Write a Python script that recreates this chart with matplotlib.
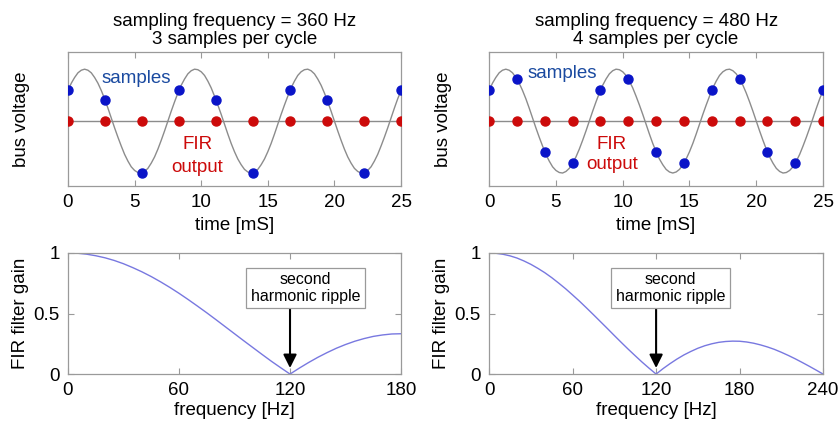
import matplotlib.pyplot as plt

plt.rcParams['font.family'] = ['Liberation Sans', 'DejaVu Sans']

# bus voltage wave, one reading every 0.25 ms
waveT = [k * 0.25 for k in range(101)]
waveV = [0.59, 0.73, 0.84, 0.93, 0.98, 1.0, 0.98, 0.93, 0.84, 0.73,
         0.59, 0.43, 0.25, 0.06, -0.13, -0.31, -0.48, -0.64, -0.77, -0.88,
         -0.95, -0.99, -1.0, -0.97, -0.91, -0.81, -0.69, -0.54, -0.37, -0.19,
         0.0, 0.19, 0.37, 0.54, 0.69, 0.81, 0.91, 0.97, 1.0, 0.99,
         0.95, 0.88, 0.77, 0.64, 0.48, 0.31, 0.13, -0.06, -0.25, -0.43,
         -0.59, -0.73, -0.84, -0.93, -0.98, -1.0, -0.98, -0.93, -0.84, -0.73,
         -0.59, -0.43, -0.25, -0.06, 0.13, 0.31, 0.48, 0.64, 0.77, 0.88,
         0.95, 0.99, 1.0, 0.97, 0.91, 0.81, 0.69, 0.54, 0.37, 0.19,
         0.0, -0.19, -0.37, -0.54, -0.69, -0.81, -0.91, -0.97, -1.0, -0.99,
         -0.95, -0.88, -0.77, -0.64, -0.48, -0.31, -0.13, 0.06, 0.25, 0.43,
         0.59]

# samples at 360 Hz
samp3T = [0.0, 2.78, 5.56, 8.33, 11.11, 13.89, 16.67, 19.44, 22.22, 25.0]
samp3V = [0.59, 0.41, -0.99, 0.59, 0.41, -0.99, 0.59, 0.41, -0.99, 0.59]
fir3V = [0, 0, 0, 0, 0, 0, 0, 0, 0, 0]

# samples at 480 Hz
samp4T = [0.0, 2.08, 4.17, 6.25, 8.33, 10.42, 12.5, 14.58, 16.67, 18.75, 20.83, 22.92, 25.0]
samp4V = [0.59, 0.81, -0.59, -0.81, 0.59, 0.81, -0.59, -0.81, 0.59, 0.81, -0.59, -0.81, 0.59]
fir4V = [0, 0, 0, 0, 0, 0, 0, 0, 0, 0, 0, 0, 0]

# FIR gain curves, one reading every 5 Hz
freq3 = list(range(0, 181, 5))
gain3 = [1.0, 0.998, 0.99, 0.977, 0.96, 0.938, 0.911, 0.879, 0.844, 0.805,
         0.762, 0.716, 0.667, 0.615, 0.561, 0.506, 0.449, 0.391, 0.333, 0.275,
         0.218, 0.161, 0.105, 0.052, 0.0, 0.049, 0.095, 0.138, 0.177, 0.213,
         0.244, 0.271, 0.293, 0.311, 0.323, 0.331, 0.333]
freq4 = list(range(0, 241, 5))
gain4 = [1.0, 0.997, 0.989, 0.976, 0.958, 0.934, 0.906, 0.873, 0.837, 0.796,
         0.751, 0.704, 0.653, 0.601, 0.546, 0.49, 0.433, 0.376, 0.318, 0.261,
         0.205, 0.151, 0.098, 0.048, 0.0, 0.045, 0.086, 0.124, 0.158, 0.187,
         0.213, 0.234, 0.25, 0.262, 0.269, 0.272, 0.271, 0.265, 0.255, 0.241,
         0.224, 0.204, 0.18, 0.154, 0.126, 0.096, 0.065, 0.033, 0.0]

titles = ['sampling frequency = 360 Hz\n3 samples per cycle',
          'sampling frequency = 480 Hz\n4 samples per cycle']

frameCol = '#9a9a9a'
blue = '#0a14c8'
red = '#cc0a0a'
fs = 13.5


def styleAx(ax):
    for s in ax.spines.values():
        s.set_color(frameCol)
        s.set_linewidth(0.9)
    ax.tick_params(direction='in', top=True, right=True, color=frameCol,
                   length=4, labelsize=fs, pad=6)


fig = plt.figure(figsize=(8.39, 4.28), dpi=100)

topAxes = [fig.add_axes([0.081, 0.5654, 0.397, 0.313]),
           fig.add_axes([0.583, 0.5654, 0.398, 0.313])]
botAxes = [fig.add_axes([0.081, 0.126, 0.397, 0.283]),
           fig.add_axes([0.583, 0.126, 0.398, 0.283])]

sets = [(samp3T, samp3V, fir3V), (samp4T, samp4V, fir4V)]
sampTxt = [(5.1, 0.83), (5.5, 0.92)]
firTxt = [(9.7, -0.46, -0.9), (9.2, -0.46, -0.83)]

for i, ax in enumerate(topAxes):
    st, sv, fv = sets[i]
    ax.plot(waveT, waveV, color='#8c8c8c', lw=1.0, zorder=1)
    ax.plot(st, fv, color='#8c8c8c', lw=1.0, zorder=1)
    ax.plot(st, sv, 'o', color=blue, ms=6.5, zorder=3)
    ax.plot(st, fv, 'o', color=red, ms=6.5, zorder=3)
    ax.set_xlim(0, 25)
    ax.set_ylim(-1.25, 1.33)
    ax.set_xticks([0, 5, 10, 15, 20, 25])
    ax.set_yticks([])
    styleAx(ax)
    ax.set_title(titles[i], fontsize=fs, pad=6, linespacing=1.05)
    ax.set_xlabel('time [mS]', fontsize=fs, labelpad=4)
    ax.set_ylabel('bus voltage', fontsize=fs, labelpad=27)
    ax.text(sampTxt[i][0], sampTxt[i][1], 'samples', color='#1a4aa0', fontsize=fs,
            ha='center', va='center')
    ax.text(firTxt[i][0], firTxt[i][1], 'FIR', color=red, fontsize=fs,
            ha='center', va='center')
    ax.text(firTxt[i][0], firTxt[i][2], 'output', color=red, fontsize=fs,
            ha='center', va='center')

curves = [(freq3, gain3, [0, 60, 120, 180], 128.5),
          (freq4, gain4, [0, 60, 120, 180, 240], 130.5)]

for i, ax in enumerate(botAxes):
    f, g, ticks, boxX = curves[i]
    ax.plot(f, g, color='#7878e0', lw=1.0)
    ax.set_xlim(0, ticks[-1])
    ax.set_ylim(0, 1)
    ax.set_xticks(ticks)
    ax.set_yticks([0, 0.5, 1])
    ax.set_yticklabels(['0', '0.5', '1'])
    styleAx(ax)
    ax.set_xlabel('frequency [Hz]', fontsize=fs, labelpad=2)
    ax.set_ylabel('FIR filter gain', fontsize=fs, labelpad=3)
    ax.annotate('', xy=(120, 0.05), xytext=(120, 0.55),
                arrowprops=dict(arrowstyle='-|>', color='black', lw=1.5,
                                mutation_scale=20, shrinkA=0, shrinkB=0))
    ax.text(boxX, 0.71, 'second\nharmonic ripple', fontsize=11.5, ha='center',
            va='center', linespacing=1.1,
            bbox=dict(boxstyle='square,pad=0.3', fc='white', ec=frameCol, lw=0.9))

fig.savefig('out.png', dpi=100)
